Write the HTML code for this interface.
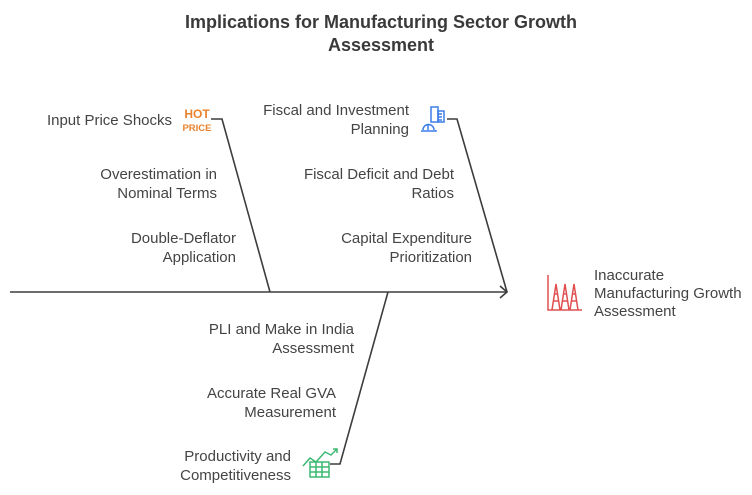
<!DOCTYPE html><html><head><style>body{margin:0;background:#fff;width:752px;height:490px;overflow:hidden;font-family:"Liberation Sans",sans-serif}</style></head><body>
<svg width="752" height="490" xmlns="http://www.w3.org/2000/svg" font-family="Liberation Sans, sans-serif">
<text x="381" y="28" text-anchor="middle" font-size="18" font-weight="bold" fill="#3a3a3a">Implications for Manufacturing Sector Growth</text>
<text x="381" y="51" text-anchor="middle" font-size="18" font-weight="bold" fill="#3a3a3a">Assessment</text>
<g stroke="#3d3d3d" stroke-width="1.6" fill="none">
<line x1="10" y1="292" x2="507" y2="292"/>
<polyline points="500,286 507,292 500,298"/>
<polyline points="211,119 222,119 270,292"/>
<polyline points="447,119 457,119 507,292"/>
<polyline points="388,292 340,464 330,464"/>
</g>
<g font-size="15" fill="#444" text-anchor="end">
<text x="172" y="125">Input Price Shocks</text>
<text x="217" y="179">Overestimation in</text><text x="217" y="198">Nominal Terms</text>
<text x="236" y="243">Double-Deflator</text><text x="236" y="262">Application</text>
<text x="409" y="115">Fiscal and Investment</text><text x="409" y="134">Planning</text>
<text x="454" y="179">Fiscal Deficit and Debt</text><text x="454" y="198">Ratios</text>
<text x="472" y="243">Capital Expenditure</text><text x="472" y="262">Prioritization</text>
<text x="354" y="334">PLI and Make in India</text><text x="354" y="353">Assessment</text>
<text x="336" y="398">Accurate Real GVA</text><text x="336" y="417">Measurement</text>
<text x="291" y="461">Productivity and</text><text x="291" y="480">Competitiveness</text>
</g>
<g font-size="15" fill="#444">
<text x="594" y="280">Inaccurate</text><text x="594" y="298">Manufacturing Growth</text><text x="594" y="316">Assessment</text>
</g>
<text x="197" y="118" text-anchor="middle" font-size="12" font-weight="bold" fill="#e8822e">HOT</text>
<text x="197" y="131" text-anchor="middle" font-size="9.5" font-weight="bold" fill="#e8822e">PRICE</text>
<g stroke="#3b7de8" stroke-width="1.5" fill="none">
<rect x="431" y="107" width="7" height="15"/><rect x="438" y="111" width="6" height="11"/>
<path d="M438 114 h4 M438 117 h4 M438 120 h4"/>
<path d="M421 131 h15 v-1 M423 130 a5.5 5.5 0 0 1 11 0 M428 124 v6"/>
</g>
<g stroke="#e05050" stroke-width="1.5" fill="none">
<path d="M548 275 v35 h34"/>
<path d="M552 310 l4 -26 l4 26 M561 310 l4 -26 l4 26 M570 310 l4 -26 l4 26"/>
<path d="M553 301 h6 M562 301 h6 M571 301 h6 M554 294 h4 M563 294 h4 M572 294 h4"/>
</g>
<g stroke="#3cb872" stroke-width="1.5" fill="none">
<path d="M303 466 l7 -8 l6 4 l9 -10 l6 3 l6 -6 M333 449 h4 v4"/>
<rect x="310" y="462" width="19" height="15"/>
<path d="M310 467 h19 M310 472 h19 M316 462 v15 M322 462 v15"/>
</g>
</svg></body></html>
